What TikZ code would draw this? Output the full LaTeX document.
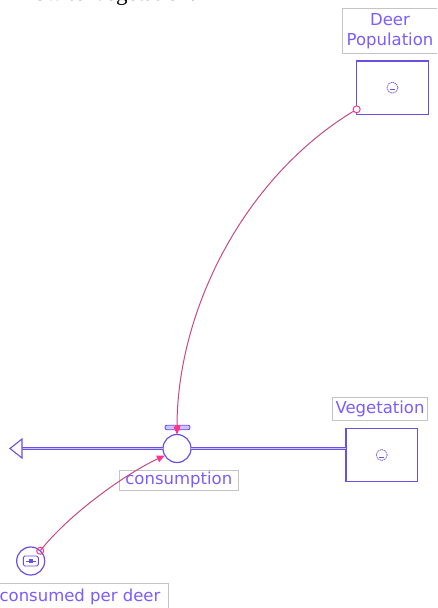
\documentclass[tikz,border=0pt]{standalone}
\usepackage{fontspec}
\setmainfont{DejaVu Sans}
\newfontfamily\serifface{Liberation Serif}
\usetikzlibrary{arrows.meta}
\definecolor{stockcol}{RGB}{104,80,228}
\definecolor{txtcol}{RGB}{122,92,255}
\definecolor{lblborder}{RGB}{196,196,200}
\definecolor{pipein}{RGB}{205,195,250}
\definecolor{conncol}{RGB}{196,74,134}
\definecolor{tipcol}{RGB}{255,52,140}
\tikzset{
  stockbox/.style={draw=stockcol, line width=1.2pt, inner sep=0pt, outer sep=0pt},
  lblbox/.style={draw=lblborder, line width=0.6pt, text=txtcol, inner sep=0pt, outer sep=0pt, align=center,
     font=\fontsize{16.5}{21}\selectfont},
  pipe/.style={draw=stockcol, line width=0.9pt, double=pipein, double distance=1.8pt},
  valvestyle/.style={circle, draw=stockcol, line width=1.2pt, fill=white, minimum size=28pt, inner sep=0pt, outer sep=0pt},
  conn/.style={draw=conncol, line width=1pt, -{Triangle[length=8pt,width=7pt,color=tipcol,fill=tipcol]}},
  connstart/.style={circle, draw=tipcol, line width=1pt, minimum size=7pt, inner sep=0pt},
  cloudsym/.style={draw=stockcol, line width=0.7pt, dash pattern=on 1.6pt off 0.7pt}
}
\begin{document}
\begin{tikzpicture}[x=1pt,y=1pt]
\useasboundingbox (0,-608) rectangle (437,0);
\clip (0,-608) rectangle (437,0);
% clipped caption at the top
\node[anchor=base west, inner sep=0pt, font=\serifface\fontsize{23}{26}\selectfont] (caption) at (20,-0.5) {flow to Vegetation.};

% Deer Population stock
\node[lblbox, minimum width=96pt, minimum height=45pt] (dplbl) at (390,-30.8) {Deer\\[-1pt]Population};
\node[stockbox, minimum width=71.6pt, minimum height=53.3pt] (dp) at (392.5,-87.7) {};
\draw[cloudsym] (dp.center) circle (5.5pt);
\draw[stockcol, line width=0.6pt] ([xshift=-2.5pt,yshift=-2pt]dp.center) -- ([xshift=2.5pt,yshift=-2pt]dp.center);

% Vegetation stock
\node[lblbox, minimum width=94.6pt, minimum height=23.4pt] (veglbl) at (380,-409) {Vegetation};
\node[stockbox, minimum width=71.3pt, minimum height=53.4pt] (veg) at (381.7,-455) {};
\draw[cloudsym] (veg.center) circle (5.5pt);
\draw[stockcol, line width=0.6pt] ([xshift=-2.5pt,yshift=-2pt]veg.center) -- ([xshift=2.5pt,yshift=-2pt]veg.center);

% valve and flow pipe
\node[valvestyle] (valve) at (177,-448.5) {};
\coordinate (sinkbase) at (22,-448.5);
\coordinate (sinktip) at (10,-448.5);
\draw[pipe] (sinkbase) -- (valve.west);
\draw[pipe] (valve.east) -- (veg.west |- valve.east);
\draw[stockcol, line width=1.1pt, fill=white, line join=miter] (sinktip) -- ([yshift=9.5pt]sinkbase) -- ([yshift=-9.5pt]sinkbase) -- cycle;
\node[draw=stockcol, line width=0.9pt, fill=pipein, rounded corners=2pt, minimum width=25pt, minimum height=4.5pt, inner sep=0pt] (tbar) at (177.5,-427.5) {};
\node[lblbox, fill=white, minimum width=119pt, minimum height=20pt] (conslbl) at (178.8,-480) {consumption};

% converter
\node[valvestyle, minimum size=28pt] (conv) at (30.7,-561) {};
\draw[stockcol, line width=0.9pt, rounded corners=1.5pt] (23.3,-556) rectangle (38.3,-566);
\draw[stockcol, line width=0.8pt] (26,-561) -- (36,-561);
\fill[stockcol] (29.3,-559.3) rectangle (32.7,-562.7);
\node[lblbox, fill=white, minimum width=176pt, minimum height=26pt] (convlbl) at (80,-596.5) {consumed per deer};

% connectors
\coordinate (c1s) at (356.7,-109.3);
\draw[conn] (c1s) .. controls +(210.6:130) and +(90:125) .. (valve.north);
\fill[tipcol] (174.5,-425) rectangle (179.5,-430);
\node[connstart, fill=white] (c1o) at (c1s) {};
\draw[conn] (conv.47) .. controls +(52:45) and +(205:45) .. (valve.210);
\node[connstart] (c2o) at (conv.47) {};
\end{tikzpicture}
\end{document}
